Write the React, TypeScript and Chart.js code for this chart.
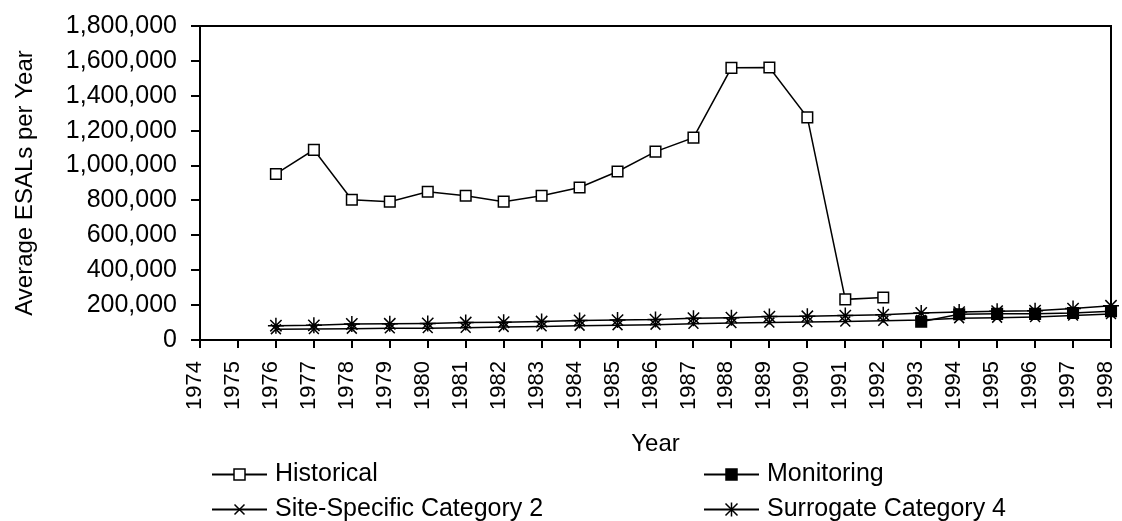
import React, { useEffect, useRef } from 'react';
import { Chart, registerables } from 'chart.js';

Chart.register(...registerables);

const years: string[] = [
  '1974', '1975', '1976', '1977', '1978', '1979', '1980', '1981', '1982', '1983',
  '1984', '1985', '1986', '1987', '1988', '1989', '1990', '1991', '1992', '1993',
  '1994', '1995', '1996', '1997', '1998',
];

const historical: (number | null)[] = [
  null, null, 952000, 1090000, 804000, 793000, 850000, 827000, 793000, 827000,
  874000, 966000, 1080000, 1160000, 1560000, 1562000, 1276000, 233000, 244000, null,
  null, null, null, null, null,
];

const monitoring: (number | null)[] = [
  null, null, null, null, null, null, null, null, null, null,
  null, null, null, null, null, null, null, null, null, 105000,
  148000, 150000, 150000, 155000, 165000,
];

const siteSpecific2: (number | null)[] = [
  null, null, 62000, 63000, 65000, 67000, 68000, 70000, 75000, 78000,
  82000, 85000, 88000, 93000, 97000, 100000, 103000, 106000, 110000, 115000,
  125000, 128000, 132000, 140000, 149000,
];

const surrogate4: (number | null)[] = [
  null, null, 82000, 84000, 92000, 93000, 95000, 100000, 102000, 106000,
  112000, 114000, 117000, 125000, 128000, 134000, 136000, 140000, 145000, 155000,
  160000, 165000, 168000, 180000, 196000,
];

const yTicksMax = 1800000;
const yTickStep = 200000;

const seriesNames = ['Historical', 'Monitoring', 'Site-Specific Category 2', 'Surrogate Category 4'];

const FONT = "'Liberation Sans', Arial, sans-serif";

function drawMarker(ctx: CanvasRenderingContext2D, kind: string, x: number, y: number) {
  ctx.save();
  ctx.strokeStyle = '#000';
  ctx.lineWidth = 1.5;
  if (kind === 'rect' || kind === 'rectFilled') {
    const s = 5.5;
    ctx.fillStyle = kind === 'rect' ? '#fff' : '#000';
    ctx.fillRect(x - s, y - s, 2 * s, 2 * s);
    ctx.strokeRect(x - s, y - s, 2 * s, 2 * s);
  } else if (kind === 'crossRot') {
    const s = 5;
    ctx.beginPath();
    ctx.moveTo(x - s, y - s); ctx.lineTo(x + s, y + s);
    ctx.moveTo(x + s, y - s); ctx.lineTo(x - s, y + s);
    ctx.stroke();
  } else if (kind === 'star') {
    const s = 6;
    ctx.beginPath();
    ctx.moveTo(x - s, y - s); ctx.lineTo(x + s, y + s);
    ctx.moveTo(x + s, y - s); ctx.lineTo(x - s, y + s);
    ctx.moveTo(x, y - 7); ctx.lineTo(x, y + 7);
    ctx.stroke();
  }
  ctx.restore();
}

const frameAndLegend = {
  id: 'frameAndLegend',
  afterDraw(chart: any) {
    const ctx: CanvasRenderingContext2D = chart.ctx;
    const { left, right, top, bottom } = chart.chartArea;
    ctx.save();
    ctx.strokeStyle = '#000';
    ctx.lineWidth = 2;
    ctx.beginPath();
    ctx.moveTo(left, top);
    ctx.lineTo(right, top);
    ctx.lineTo(right, bottom);
    ctx.stroke();

    const kinds = ['rect', 'rectFilled', 'crossRot', 'star'];
    const cols = [212, 704];
    const rowsLine = [474.5, 509.5];
    const rowsText = [481, 516];
    ctx.font = `25px ${FONT}`;
    ctx.fillStyle = '#000';
    ctx.textBaseline = 'alphabetic';
    ctx.textAlign = 'left';
    seriesNames.forEach((name, i) => {
      const c = i % 2;
      const r = Math.floor(i / 2);
      const x0 = cols[c];
      const ly = rowsLine[r];
      ctx.lineWidth = 2;
      ctx.beginPath();
      ctx.moveTo(x0, ly);
      ctx.lineTo(x0 + 55, ly);
      ctx.stroke();
      drawMarker(ctx, kinds[i], x0 + 27.5, ly);
      ctx.fillText(name, x0 + 63, rowsText[r]);
    });
    ctx.restore();
  },
};

export default function App() {
  const ref = useRef<HTMLCanvasElement | null>(null);

  useEffect(() => {
    const canvas = ref.current;
    if (!canvas) return;
    const common = {
      borderColor: '#000',
      borderWidth: 1.5,
      pointBorderColor: '#000',
      pointBorderWidth: 1.5,
      fill: false,
      tension: 0,
      spanGaps: false,
    };
    const chart = new Chart(canvas, {
      type: 'line',
      data: {
        labels: years,
        datasets: [
          {
            ...common,
            label: seriesNames[0],
            data: historical,
            pointStyle: 'rect',
            pointRadius: 7.5,
            pointBackgroundColor: '#fff',
          },
          {
            ...common,
            label: seriesNames[1],
            data: monitoring,
            pointStyle: 'rect',
            pointRadius: 7.5,
            pointBackgroundColor: '#000',
          },
          {
            ...common,
            label: seriesNames[2],
            data: siteSpecific2,
            pointStyle: 'crossRot',
            pointRadius: 7,
            pointBackgroundColor: '#000',
          },
          {
            ...common,
            label: seriesNames[3],
            data: surrogate4,
            pointStyle: 'star',
            pointRadius: 8,
            pointBackgroundColor: '#000',
          },
        ],
      },
      options: {
        responsive: false,
        animation: false,
        devicePixelRatio: 1,
        layout: { padding: { top: 26, right: 11, bottom: 51, left: 0 } },
        plugins: {
          legend: { display: false },
          tooltip: { enabled: false },
        },
        scales: {
          x: {
            type: 'category',
            offset: false,
            grid: {
              display: true,
              drawOnChartArea: false,
              drawTicks: true,
              tickLength: 8,
              lineWidth: 2,
              color: '#000',
              offset: false,
            },
            border: { display: true, color: '#000', width: 2 },
            ticks: {
              autoSkip: false,
              minRotation: 90,
              maxRotation: 90,
              padding: 13,
              labelOffset: -5,
              color: '#000',
              font: { family: FONT, size: 22 },
            },
            title: {
              display: true,
              text: 'Year',
              color: '#000',
              font: { family: FONT, size: 24 },
              padding: { top: 0, bottom: 11 },
            },
            afterFit: (scale: any) => {
              scale.height = 130;
              scale.paddingLeft = 0;
              scale.paddingRight = 0;
            },
          },
          y: {
            min: 0,
            max: yTicksMax,
            grid: {
              display: true,
              drawOnChartArea: false,
              drawTicks: true,
              tickLength: 9,
              lineWidth: 2,
              color: '#000',
            },
            border: { display: true, color: '#000', width: 2 },
            ticks: {
              stepSize: yTickStep,
              padding: 14,
              color: '#000',
              font: { family: FONT, size: 25 },
              callback: (v: any) => Number(v).toLocaleString('en-US'),
            },
            title: {
              display: true,
              text: 'Average ESALs per Year',
              color: '#000',
              font: { family: FONT, size: 24 },
              padding: { top: 11, bottom: 0 },
            },
            afterFit: (scale: any) => {
              scale.width = 200;
              scale.paddingTop = 0;
              scale.paddingBottom = 0;
            },
          },
        },
      },
      plugins: [frameAndLegend],
    });
    return () => chart.destroy();
  }, []);

  return (
    <div style={{ position: 'fixed', left: 0, top: 0, width: 1122, height: 521, background: '#fff' }}>
      <canvas ref={ref} width={1122} height={521} style={{ display: 'block', width: 1122, height: 521 }} />
    </div>
  );
}
